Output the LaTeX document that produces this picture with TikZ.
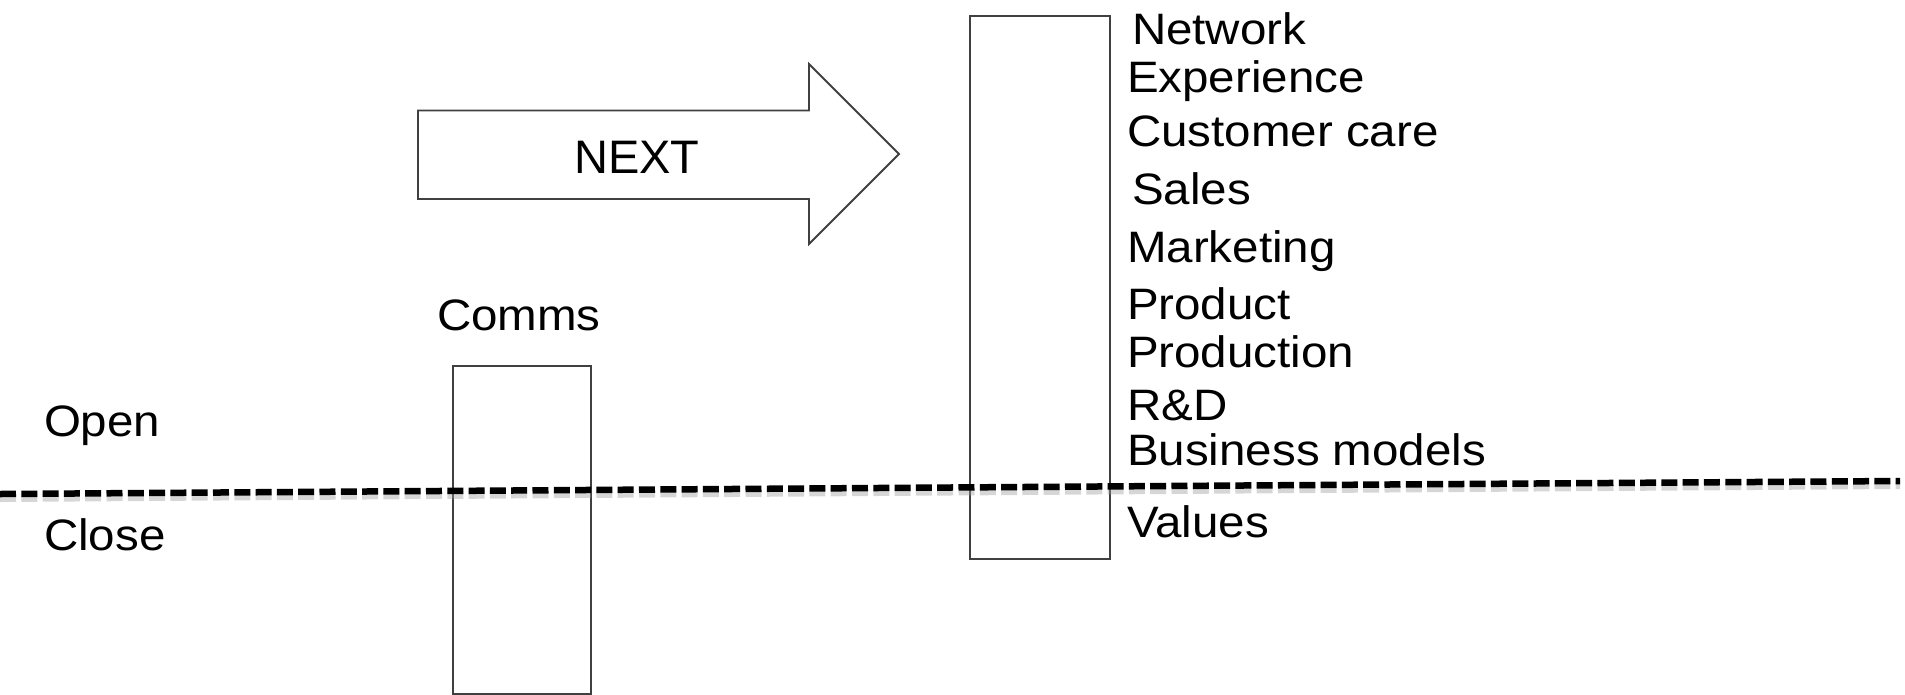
\documentclass[tikz,border=0pt]{standalone}
\usepackage{fontspec}
\setmainfont{Liberation Sans}
\usepackage{graphicx}
\definecolor{edgegray}{HTML}{404040}
\tikzset{
  lbl/.style={anchor=base west, inner sep=0pt, outer sep=0pt, font=\fontsize{44}{50}\selectfont},
  boxst/.style={draw=edgegray, line width=1.8pt, fill=none, inner sep=0pt},
  dashline/.style={line width=6.5pt, dash pattern=on 16pt off 5.3pt, black},
  dashshadow/.style={line width=8pt, dash pattern=on 16pt off 5.3pt, black!40, opacity=0.4},
}
\newcommand{\wide}[1]{\scalebox{1.08}[1]{#1}}
\begin{document}
\begin{tikzpicture}[x=1pt,y=-1pt]
\useasboundingbox (0,0) rectangle (1905,694);

% NEXT arrow
\coordinate (a1) at (418,110.5);
\coordinate (a2) at (809,110.5);
\coordinate (a3) at (809,64);
\coordinate (a4) at (899,154);
\coordinate (a5) at (809,244);
\coordinate (a6) at (809,199);
\coordinate (a7) at (418,199);
\draw[draw=edgegray, line width=1.8pt, line join=miter] (a1) -- (a2) -- (a3) -- (a4) -- (a5) -- (a6) -- (a7) -- cycle;
\node[anchor=base, inner sep=0pt, font=\fontsize{47}{52}\selectfont] (next) at (637,173) {NEXT};

% boxes
\node[boxst, anchor=north west, minimum width=138pt, minimum height=328pt] (comms) at (452,365) {};
\node[boxst, anchor=north west, minimum width=140pt, minimum height=543pt] (stack) at (969,15) {};

% dashed boundary with shadow
\coordinate (dl) at (0,494);
\coordinate (dr) at (1900,481);
\draw[dashshadow] ([yshift=-4pt]dl) -- ([yshift=-4pt]dr);
\draw[dashline] (dl) -- (dr);

% labels
\node[lbl] (comlbl) at (437,330) {\wide{Comms}};
\node[lbl] (open) at (44,436) {\wide{Open}};
\node[lbl] (close) at (44,550) {\wide{Close}};

\node[lbl] (l1) at (1132,44) {\wide{Network}};
\node[lbl] (l2) at (1127,92) {\wide{Experience}};
\node[lbl] (l3) at (1127,146) {\wide{Customer care}};
\node[lbl] (l4) at (1132,204) {\wide{Sales}};
\node[lbl] (l5) at (1127,262) {\wide{Marketing}};
\node[lbl] (l6) at (1127,319) {\wide{Product}};
\node[lbl] (l7) at (1127,367) {\wide{Production}};
\node[lbl] (l8) at (1127,420) {\wide{R\&D}};
\node[lbl] (l9) at (1127,465) {\wide{Business models}};
\node[lbl] (l10) at (1127,537) {\wide{Values}};
\end{tikzpicture}
\end{document}
